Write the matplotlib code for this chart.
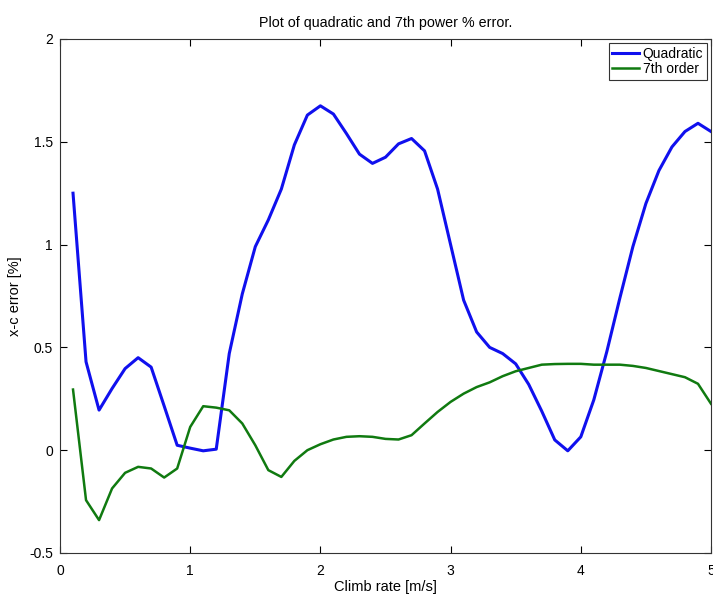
import matplotlib.pyplot as plt
import numpy as np

plt.rcParams['font.family'] = ['Liberation Sans', 'DejaVu Sans']

climb_rate = np.round(np.arange(1, 51) * 0.1, 1)

quadratic_err = [
    1.25, 0.43, 0.195, 0.30, 0.397, 0.45, 0.404, 0.215, 0.024, 0.01,
    -0.003, 0.005, 0.47, 0.76, 0.99, 1.12, 1.27, 1.485, 1.63, 1.675,
    1.635, 1.54, 1.44, 1.395, 1.425, 1.49, 1.516, 1.456, 1.27, 1.00,
    0.73, 0.575, 0.50, 0.47, 0.42, 0.32, 0.19, 0.05, -0.003, 0.065,
    0.245, 0.48, 0.74, 0.99, 1.20, 1.36, 1.475, 1.55, 1.59, 1.55,
]

seventh_err = [
    0.295, -0.243, -0.34, -0.186, -0.11, -0.081, -0.089, -0.133, -0.089, 0.113,
    0.214, 0.207, 0.194, 0.13, 0.024, -0.097, -0.13, -0.052, 0.0, 0.029,
    0.052, 0.065, 0.068, 0.065, 0.055, 0.052, 0.073, 0.13, 0.186, 0.235,
    0.275, 0.307, 0.33, 0.36, 0.384, 0.40, 0.416, 0.419, 0.42, 0.42,
    0.416, 0.416, 0.416, 0.41, 0.40, 0.385, 0.37, 0.355, 0.323, 0.226,
]

fig = plt.figure(figsize=(7.13, 5.97), dpi=100)
ax = fig.add_axes([60 / 713, 44 / 597, 651 / 713, 514 / 597])

ax.plot(climb_rate, quadratic_err, color='#1010ee', linewidth=2.2, label='Quadratic')
ax.plot(climb_rate, seventh_err, color='#107a10', linewidth=1.8, label='7th order')

ax.set_xlim(0, 5)
ax.set_ylim(-0.5, 2)
ax.set_xticks([0, 1, 2, 3, 4, 5])
ax.set_yticks([-0.5, 0, 0.5, 1, 1.5, 2])
ax.set_yticklabels(['-0.5', '0', '0.5', '1', '1.5', '2'])
ax.tick_params(direction='in', top=True, right=True, length=5, labelsize=10)
ax.tick_params(axis='x', pad=8)
ax.tick_params(axis='y', pad=5)
for s in ax.spines.values():
    s.set_color('#333333')

ax.set_title('Plot of quadratic and 7th power % error.', fontsize=10.3, pad=9)
ax.set_xlabel('Climb rate [m/s]', fontsize=10.5, labelpad=1)
ax.set_ylabel('x-c error [%]', fontsize=10.5, labelpad=5)

leg = ax.legend(loc='upper right', fontsize=10, fancybox=False, framealpha=1,
                edgecolor='#333333', handlelength=1.9, handletextpad=0.3,
                borderpad=0.25, labelspacing=0.1, borderaxespad=0.3)
leg.get_frame().set_linewidth(0.8)

fig.savefig('out.png', dpi=100)
